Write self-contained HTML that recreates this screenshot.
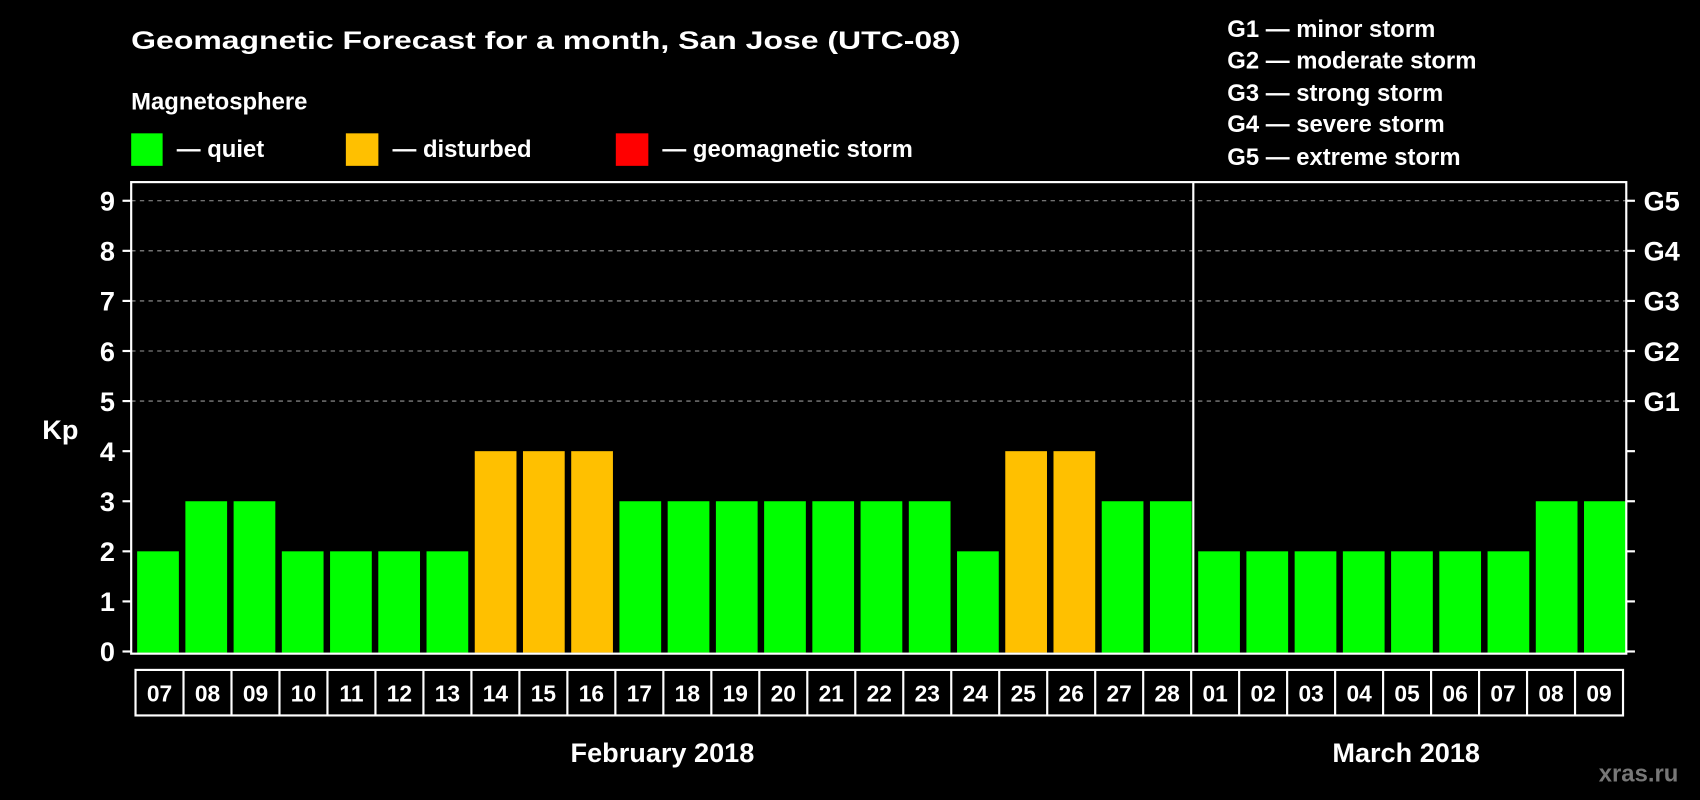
<!DOCTYPE html>
<html><head><meta charset="utf-8"><style>
html,body{margin:0;padding:0;background:#000;width:1700px;height:800px;overflow:hidden}
svg{display:block;font-family:"Liberation Sans",Arial,sans-serif;font-weight:bold}
</style></head><body>
<svg id="chart" width="1700" height="800" viewBox="0 0 1568 738" preserveAspectRatio="none" xmlns="http://www.w3.org/2000/svg">
<rect x="0" y="0" width="1568" height="738" fill="#000"/>
<text x="121" y="45" fill="#fff" font-size="23" textLength="765" lengthAdjust="spacingAndGlyphs">Geomagnetic Forecast for a month, San Jose (UTC-08)</text>
<text x="121" y="101" fill="#fff" font-size="22">Magnetosphere</text>
<g><rect x="121" y="123" width="29" height="30" fill="#00ff00"/><text x="163" y="145" fill="#fff" font-size="22">— quiet</text></g>
<g><rect x="319" y="123" width="30" height="30" fill="#ffc000"/><text x="362" y="145" fill="#fff" font-size="22">— disturbed</text></g>
<g><rect x="568" y="123" width="30" height="30" fill="#ff0000"/><text x="611" y="145" fill="#fff" font-size="22">— geomagnetic storm</text></g>
<g fill="#fff" font-size="22">
<text x="1132" y="34">G1 — minor storm</text>
<text x="1132" y="63">G2 — moderate storm</text>
<text x="1132" y="93">G3 — strong storm</text>
<text x="1132" y="122">G4 — severe storm</text>
<text x="1132" y="152">G5 — extreme storm</text>
</g>
<text x="39" y="405" fill="#fff" font-size="25">Kp</text>
<g id="grid"></g><g id="bars"></g><g id="axes"></g><g id="dates"></g>
<text x="611" y="703" fill="#fff" font-size="25" text-anchor="middle">February 2018</text>
<text x="1297" y="703" fill="#fff" font-size="25" text-anchor="middle">March 2018</text>
<text x="1548" y="721" fill="#777" font-size="22" text-anchor="end">xras.ru</text>
</svg>
<script>
const days = ["07","08","09","10","11","12","13","14","15","16","17","18","19","20","21","22","23","24","25","26","27","28","01","02","03","04","05","06","07","08","09"];
const kpValues = [2,3,3,2,2,2,2,4,4,4,3,3,3,3,3,3,3,2,4,4,3,3,2,2,2,2,2,2,2,3,3];
const yTicks = [0,1,2,3,4,5,6,7,8,9];
const gLabels = ["G1","G2","G3","G4","G5"];
const gLevels = [5,6,7,8,9];
const monthBreak = 22;
const NS="http://www.w3.org/2000/svg";
const L=121,R=1500,T=168,B=603;
const step=(R-L)/days.length;
function y(v){return 601-v*46.2;}
function x(i){return L+i*step;}
function mk(tag,attrs,parent){const e=document.createElementNS(NS,tag);for(const k in attrs)e.setAttribute(k,attrs[k]);parent.appendChild(e);return e;}
function color(v){return v>=5?"#ff0000":(v>=4?"#ffc000":"#00ff00");}
const grid=document.getElementById("grid"),bars=document.getElementById("bars"),axes=document.getElementById("axes"),dates=document.getElementById("dates");
gLevels.forEach((v,k)=>{
  const g=mk("line",{x1:L,x2:R,y1:y(v),y2:y(v),stroke:"#999","stroke-width":1,"stroke-dasharray":"4,4"},grid);
  
  
  const t=mk("text",{x:R+16,y:y(v)+9,fill:"#fff","font-size":25},axes);
  t.textContent=gLabels[k];
  
  
});
kpValues.forEach((v,i)=>{
  const r=mk("rect",{x:x(i)+5.5,y:y(v),width:step-6,height:B-1-y(v),fill:color(v)},bars);
  
  
});
mk("rect",{x:L,y:T,width:R-L,height:B-T,fill:"none",stroke:"#fff","stroke-width":2},axes);
const dv=mk("line",{x1:x(monthBreak)+1,x2:x(monthBreak)+1,y1:T,y2:B,stroke:"#fff","stroke-width":2},axes);


yTicks.forEach(v=>{
  mk("line",{x1:L-8,x2:L,y1:y(v),y2:y(v),stroke:"#fff","stroke-width":2},axes);
  mk("line",{x1:R,x2:R+8,y1:y(v),y2:y(v),stroke:"#fff","stroke-width":2},axes);
  const t=mk("text",{x:106,y:y(v)+9,fill:"#fff","font-size":25,"text-anchor":"end"},axes);
  t.textContent=v;
  
  
});
const bx0=125,bx1=1497,bw=(bx1-bx0)/days.length;
mk("rect",{x:bx0,y:618,width:bx1-bx0,height:42,fill:"none",stroke:"#fff","stroke-width":2},dates);
days.forEach((d,i)=>{
  if(i>0) mk("line",{x1:bx0+i*bw,x2:bx0+i*bw,y1:618,y2:660,stroke:"#fff","stroke-width":2},dates);
  const t=mk("text",{x:bx0+(i+0.5)*bw,y:647,fill:"#fff","font-size":21,"text-anchor":"middle"},dates);
  t.textContent=d;
  
  
});
</script>
</body></html>
